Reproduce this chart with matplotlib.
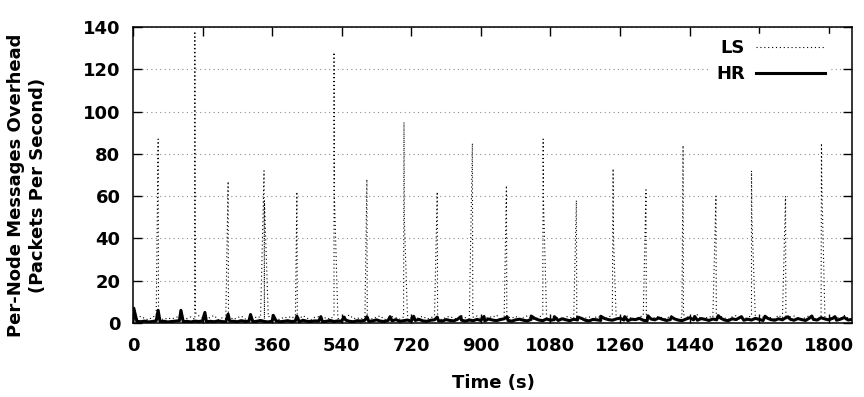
import numpy as np
import matplotlib
matplotlib.use("Agg")
import matplotlib.pyplot as plt

# sampled background traffic, one value every 10 s (0 .. 1860 s)
step = 10
ls_base = [
    2.5, 1.8, 3.2, 2.1, 1.5, 2.8, 3.5, 2.0, 1.6, 2.4,
    1.9, 2.6, 3.1, 1.4, 2.2, 2.9, 1.7, 3.4, 2.3, 1.8,
    2.7, 3.6, 1.5, 2.4, 2.0, 3.0, 1.6, 2.5, 3.3, 1.9,
    2.2, 1.5, 3.1, 2.6, 1.8, 2.9, 3.7, 2.1, 1.6, 2.8,
    2.4, 3.2, 1.7, 2.0, 3.5, 2.3, 1.5, 2.7, 3.0, 1.9,
    2.6, 1.8, 3.3, 2.2, 1.6, 2.9, 3.8, 2.0, 2.5, 1.7,
    3.1, 2.3, 1.9, 2.8, 3.4, 1.6, 2.2, 3.0, 2.5, 1.8,
    2.9, 3.6, 2.1, 1.7, 2.6, 3.2, 1.9, 2.4, 3.5, 2.0,
    1.6, 2.8, 3.1, 2.2, 1.8, 3.4, 2.5, 1.9, 2.7, 3.3,
    2.1, 1.7, 3.0, 2.6, 3.8, 2.0, 1.6, 2.9, 2.3, 3.2,
    1.8, 2.5, 3.4, 2.1, 1.7, 2.8, 3.6, 2.2, 1.9, 3.0,
    2.4, 1.6, 3.1, 2.7, 2.0, 3.5, 1.8, 2.3, 2.9, 1.7,
    3.2, 2.5, 1.9, 2.8, 3.7, 2.1, 1.6, 2.6, 3.3, 2.0,
    1.8, 2.9, 3.4, 2.2, 1.7, 2.7, 3.1, 2.4, 1.9, 3.6,
    2.3, 1.6, 2.8, 3.3, 2.0, 2.5, 3.9, 1.8, 2.2, 3.0,
    2.6, 1.9, 3.2, 2.4, 1.7, 2.9, 3.5, 2.1, 1.8, 2.7,
    3.4, 2.2, 1.6, 2.8, 3.1, 2.5, 1.9, 3.7, 2.3, 1.8,
    2.9, 3.3, 2.0, 1.7, 2.6, 3.5, 2.2, 1.9, 3.0, 2.4,
    1.8, 3.2, 2.7, 2.1, 3.6, 2.3, 1.9,
]
hr_base = [
    1.2, 0.8, 0.6, 0.9, 0.5, 0.7, 1.0, 0.6, 0.8, 0.5,
    0.7, 0.9, 1.1, 0.6, 0.8, 0.5, 0.9, 0.7, 1.0, 0.6,
    0.8, 0.6, 1.0, 0.7, 0.5, 0.9, 0.8, 0.6, 1.1, 0.7,
    0.9, 0.6, 0.8, 1.2, 0.7, 0.5, 0.9, 1.0, 0.6, 0.8,
    1.1, 0.7, 0.9, 0.6, 1.3, 0.8, 0.7, 1.0, 0.9, 0.6,
    0.8, 1.2, 0.7, 1.0, 0.9, 1.4, 0.8, 0.6, 1.1, 0.9,
    1.3, 0.8, 1.0, 1.5, 0.9, 0.7, 1.2, 1.0, 1.6, 0.8,
    1.1, 1.4, 0.9, 1.2, 1.7, 1.0, 0.8, 1.3, 1.5, 1.1,
    0.9, 1.6, 1.2, 1.0, 1.8, 1.3, 0.9, 1.4, 1.1, 1.7,
    1.2, 1.0, 1.9, 1.4, 1.1, 1.6, 2.0, 1.2, 0.9, 1.5,
    1.8, 1.3, 1.0, 1.7, 2.1, 1.4, 1.1, 1.9, 1.3, 1.6,
    1.2, 2.0, 1.5, 1.1, 1.8, 1.4, 2.2, 1.3, 1.0, 1.7,
    1.5, 1.2, 2.1, 1.6, 1.3, 1.9, 2.3, 1.4, 1.1, 1.8,
    1.6, 2.2, 1.3, 1.0, 1.9, 1.5, 2.4, 1.7, 1.2, 1.6,
    2.0, 1.4, 1.1, 1.8, 2.5, 1.5, 1.3, 2.1, 1.7, 1.2,
    1.9, 1.5, 2.3, 1.4, 1.1, 2.0, 1.6, 2.6, 1.3, 1.8,
    1.4, 2.2, 1.7, 1.2, 2.4, 1.6, 1.3, 2.0, 1.5, 2.7,
    1.8, 1.3, 2.1, 1.6, 1.2, 2.3, 1.7, 1.4, 2.5, 1.9,
    1.5, 2.2, 1.3, 1.8, 2.6, 1.4, 1.7,
]

# LS flooding bursts: time, peak, value one second later
ls_spike_t = [65, 160, 246, 339, 424, 520, 605, 701, 787, 878,
              966, 1061, 1147, 1242, 1327, 1423, 1508, 1600, 1688, 1781]
ls_spike_peak = [87, 138, 67, 72, 62, 128, 68, 95, 62, 85,
                 65, 87, 58, 73, 63, 84, 60, 72, 60, 85]
ls_spike_next = [3, 5, 4, 58, 4, 60, 3, 48, 3, 4,
                 3, 57, 3, 40, 3, 4, 3, 50, 3, 65]

# HR periodic bumps
hr_bump_t = [2, 65, 124, 186, 246, 304, 363, 424, 486, 546, 605, 665, 726, 787,
             848, 908, 968, 1030, 1090, 1150, 1210, 1272, 1332, 1393, 1453,
             1514, 1574, 1635, 1695, 1756, 1816]
hr_bump_v = [7.0, 6.0, 6.0, 5.0, 4.2, 4.0, 3.6, 3.2, 3.0, 2.8, 3.0, 3.0, 3.2,
             2.8, 3.0, 3.1, 2.9, 3.3, 3.0, 2.8, 3.2, 3.0, 3.4, 2.9, 3.1, 3.5,
             3.0, 3.2, 2.9, 3.3, 3.0]


def merge(base, extra_t, extra_v):
    t = np.concatenate([np.arange(len(base)) * step, extra_t])
    v = np.concatenate([base, extra_v])
    order = np.argsort(t, kind="stable")
    return t[order], v[order]


ls_t, ls_v = merge(ls_base,
                   np.concatenate([ls_spike_t, np.array(ls_spike_t) + 1]),
                   np.concatenate([ls_spike_peak, ls_spike_next]))
hr_t, hr_v = merge(hr_base, hr_bump_t, hr_bump_v)

plt.rcParams["font.family"] = "DejaVu Sans"
plt.rcParams["font.weight"] = "bold"
plt.rcParams["font.size"] = 13

fig = plt.figure(figsize=(8.64, 3.97), dpi=100)
ax = fig.add_axes([133 / 864, 74 / 397, 719 / 864, 296 / 397])

ax.plot(ls_t, ls_v, color="black", lw=0.8, ls=(0, (1, 2.5)), label="LS")
ax.plot(hr_t, hr_v, color="black", lw=2.2, label="HR")

ax.set_xlim(0, 1860)
ax.set_ylim(0, 140)
ax.set_xticks(np.arange(0, 1801, 180))
ax.set_yticks(np.arange(0, 141, 20))
ax.yaxis.grid(True, color="0.55", lw=0.8, ls=(0, (1, 3)))
ax.set_axisbelow(True)
ax.tick_params(direction="in", top=True, right=True, length=6.5, width=1)
ax.tick_params(axis="x", pad=10)
ax.tick_params(axis="y", pad=9)
for s in ax.spines.values():
    s.set_linewidth(1.1)

leg = ax.legend(loc="upper right", bbox_to_anchor=(0.982, 1.008),
                markerfirst=False, handlelength=3.8, handletextpad=0.6,
                labelspacing=0.45, frameon=True, fancybox=False,
                edgecolor="white", facecolor="white", framealpha=1,
                borderpad=0.3)

fig.text(493 / 864, 1 - 383 / 397, "Time (s)", ha="center", va="center",
         fontweight="bold")
fig.text(27 / 864, 1 - 185 / 397,
         "Per-Node Messages Overhead\n(Packets Per Second)",
         rotation=90, ha="center", va="center", multialignment="center",
         linespacing=1.25, fontweight="bold")

fig.savefig("out.png", dpi=100)
